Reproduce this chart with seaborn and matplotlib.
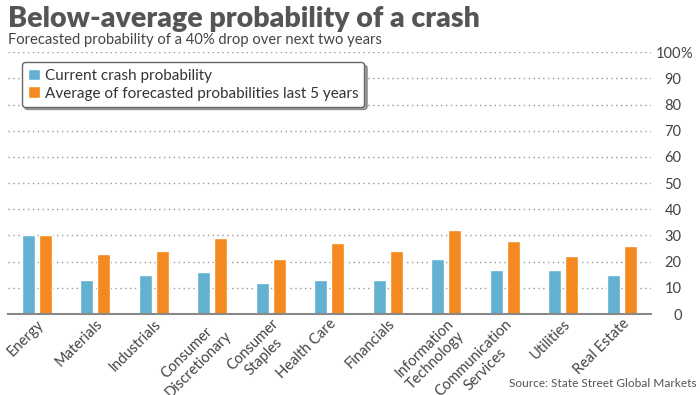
import matplotlib
matplotlib.use('Agg')
import matplotlib.pyplot as plt
import pandas as pd
import seaborn as sns

# data
sectors = ['Energy', 'Materials', 'Industrials', 'Consumer\nDiscretionary', 'Consumer\nStaples',
           'Health Care', 'Financials', 'Information\nTechnology', 'Communication\nServices',
           'Utilities', 'Real Estate']
current = [30, 13, 15, 16, 12, 13, 13, 21, 17, 17, 15]
average5 = [30, 23, 24, 29, 21, 27, 24, 32, 28, 22, 26]
series_names = ['Current crash probability', 'Average of forecasted probabilities last 5 years']
y_ticks = [0, 10, 20, 30, 40, 50, 60, 70, 80, 90, 100]
y_labels = ['0', '10', '20', '30', '40', '50', '60', '70', '80', '90', '100']

df = pd.DataFrame({
    'sector': sectors * 2,
    'value': current + average5,
    'series': [series_names[0]] * len(sectors) + [series_names[1]] * len(sectors),
})

sns.set_style('white')
plt.rcParams['font.family'] = ['Lato', 'DejaVu Sans']

fig = plt.figure(figsize=(7, 3.95), dpi=100)
ax = fig.add_axes([0.011, 0.205, 0.919, 0.663])

sns.barplot(data=df, x='sector', y='value', hue='series', order=sectors,
            palette=['#63b1d1', '#f5891f'], width=0.58, gap=0.23,
            saturation=1, ax=ax)

ax.set_xlim(-0.5, 10.5)
ax.set_ylim(0, 100)
ax.yaxis.tick_right()
ax.set_yticks(y_ticks)
ax.set_yticklabels(y_labels, fontsize=10.5, color='#444444', ha='right')
ax.tick_params(axis='y', length=0, pad=22)
ax.tick_params(axis='x', length=0, pad=2)
# percent sign hangs after the top label
ax.annotate('%', xy=(1, 100), xycoords=('axes fraction', 'data'), xytext=(21, 0),
            textcoords='offset points', ha='left', va='center_baseline', fontsize=10.5,
            color='#444444')
for lab in ax.get_xticklabels():
    lab.set_rotation(45)
    lab.set_ha('right')
    lab.set_rotation_mode('anchor')
    lab.set_fontsize(10.5)
    lab.set_color('#444444')
    lab.set_multialignment('center')

ax.set_axisbelow(True)
ax.grid(axis='y', linestyle=(0, (1, 2.5)), color='#999999', linewidth=1)
for t in ['left', 'right', 'top']:
    ax.spines[t].set_visible(False)
ax.spines['bottom'].set_color('#888888')
ax.spines['bottom'].set_linewidth(1.5)
ax.set_xlabel('')
ax.set_ylabel('')

leg = ax.legend(loc='upper left', bbox_to_anchor=(0.01, 0.99), fontsize=11,
                frameon=True, fancybox=True, shadow=True, handlelength=0.8,
                handleheight=0.8, handletextpad=0.3, labelspacing=0.25,
                borderpad=0.4, title=None)
leg.get_frame().set_edgecolor('#666666')
leg.get_frame().set_linewidth(1)
for txt in leg.get_texts():
    txt.set_color('#333333')

fig.text(0.011, 0.952, 'Below-average probability of a crash', fontsize=20.5,
         fontweight='heavy', color='#555555', va='center')
fig.text(0.011, 0.898, 'Forecasted probability of a 40% drop over next two years',
         fontsize=10.6, color='#444444', va='center')
fig.text(0.995, 0.028, 'Source: State Street Global Markets', fontsize=8.6,
         color='#555555', ha='right', va='center')

fig.savefig('out.png', dpi=100)
